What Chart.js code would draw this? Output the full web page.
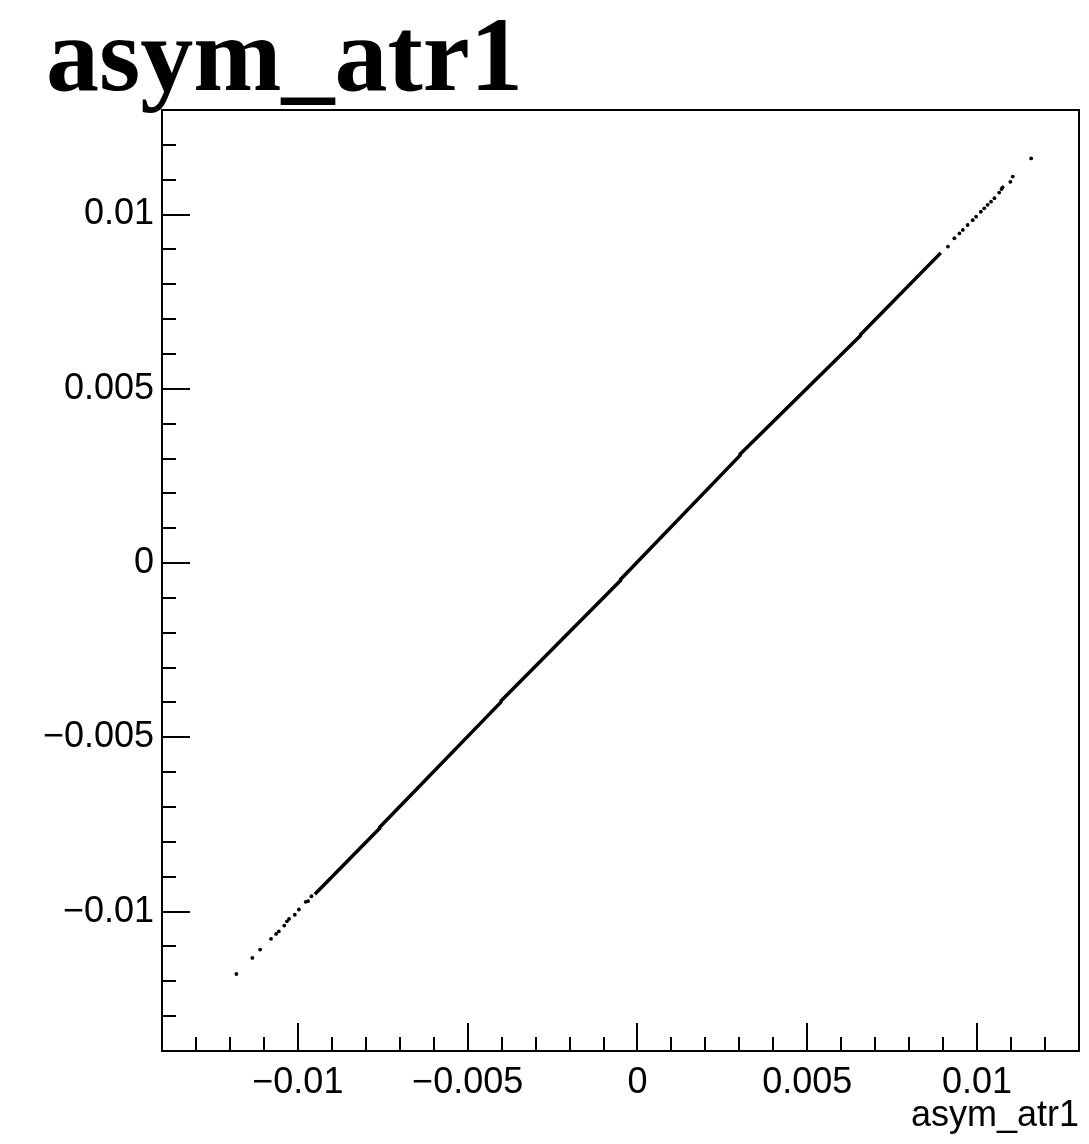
<!DOCTYPE html>
<html>
<head>
<meta charset="utf-8">
<script src="https://cdn.jsdelivr.net/npm/chart.js@4"></script>
<style>
html,body{margin:0;padding:0;background:#fff;}
#wrap{position:relative;width:1089px;height:1144px;}
</style>
</head>
<body>
<div id="wrap"><canvas id="c" width="1089" height="1144"></canvas></div>
<script>
// ---- data ----
const chartTitle = "asym_atr1";
const xAxisTitle = "asym_atr1";
const axisMin = -0.014;
const axisMax = 0.013;
const minorStep = 0.001;
const majorTickValues = [-0.01, -0.005, 0, 0.005, 0.01];
const majorTickLabels = ["\u22120.01", "\u22120.005", "0", "0.005", "0.01"];

// dense band (continuous trace, with small kinks)
const denseX = [-0.00950, -0.00759, -0.00759, -0.00402, -0.00402, -0.00050, -0.00050, 0.00302, 0.00302, 0.00657, 0.00657, 0.00893];
const denseY = [-0.00950, -0.00761, -0.00758, -0.00399, -0.00396, -0.00050, -0.00047, 0.00309, 0.00312, 0.00653, 0.00656, 0.00890];

// isolated points in the tails
const tailX = [-0.01181, -0.01134, -0.01111, -0.01079, -0.01064, -0.01056, -0.01040, -0.01032, -0.01026, -0.01009, -0.00997, -0.00977, -0.00970, -0.00960,
               0.00914, 0.00933, 0.00948, 0.00958, 0.00972, 0.00987, 0.00997, 0.01011, 0.01021, 0.01031, 0.01041, 0.01051, 0.01065, 0.01072, 0.01075, 0.01098, 0.01105, 0.01159];
const tailY = [-0.01179, -0.01133, -0.01109, -0.01078, -0.01064, -0.01057, -0.01040, -0.01028, -0.01021, -0.01009, -0.00994, -0.00972, -0.00970, -0.00956,
               0.00908, 0.00932, 0.00946, 0.00956, 0.00970, 0.00984, 0.00994, 0.01008, 0.01018, 0.01028, 0.01037, 0.01047, 0.01063, 0.01073, 0.01078, 0.01094, 0.01109, 0.01161];

// ---- build ----
const minorTickValues = [];
for (let i = Math.round(axisMin / minorStep); i <= Math.round(axisMax / minorStep); i++) minorTickValues.push(i * minorStep);

function labelFor(v) {
  for (let i = 0; i < majorTickValues.length; i++) {
    if (Math.abs(v - majorTickValues[i]) < 1e-9) return majorTickLabels[i];
  }
  return "";
}
function isMajor(v) { return labelFor(v) !== "" ; }

const densePts = denseX.map((x, i) => ({x: x, y: denseY[i]}));
const tailPts = tailX.map((x, i) => ({x: x, y: tailY[i]}));

const FONT = "'Liberation Sans', Arial, Helvetica, sans-serif";

const framePlugin = {
  id: 'rootFrame',
  afterDraw(chart) {
    const ctx = chart.ctx;
    const a = chart.chartArea;
    const xs = chart.scales.x, ys = chart.scales.y;
    ctx.save();
    ctx.strokeStyle = '#000';
    ctx.lineWidth = 2;
    ctx.strokeRect(a.left, a.top, a.right - a.left, a.bottom - a.top);
    ctx.lineWidth = 2;
    ctx.beginPath();
    xs.ticks.forEach(t => {
      const px = Math.round(xs.getPixelForValue(t.value));
      const len = isMajor(t.value) ? 28 : 14;
      ctx.moveTo(px, a.bottom);
      ctx.lineTo(px, a.bottom - len);
    });
    ys.ticks.forEach(t => {
      const py = Math.round(ys.getPixelForValue(t.value));
      const len = isMajor(t.value) ? 28 : 14;
      ctx.moveTo(a.left, py);
      ctx.lineTo(a.left + len, py);
    });
    ctx.stroke();
    // title
    ctx.fillStyle = '#000';
    ctx.font = "bold 106px 'Liberation Serif', 'Times New Roman', serif";
    ctx.textBaseline = 'alphabetic';
    ctx.textAlign = 'left';
    ctx.fillText(chartTitle, 46, 90);
    ctx.restore();
  }
};

const setTicks = (scale) => { scale.ticks = minorTickValues.map(v => ({value: v})); };

new Chart(document.getElementById('c'), {
  type: 'scatter',
  data: {
    datasets: [
      {data: densePts, showLine: true, borderColor: '#000', borderWidth: 3.5, pointRadius: 0, backgroundColor: '#000', tension: 0},
      {data: tailPts, showLine: false, pointRadius: 1.9, pointBorderWidth: 0, backgroundColor: '#000', borderColor: '#000'}
    ]
  },
  options: {
    responsive: false,
    animation: false,
    devicePixelRatio: 1,
    layout: {padding: {top: 110, right: 2, left: 0, bottom: 0}},
    plugins: {legend: {display: false}, tooltip: {enabled: false}, title: {display: false}},
    scales: {
      x: {
        type: 'linear', min: axisMin, max: axisMax,
        afterBuildTicks: setTicks,
        afterFit: (s) => { s.height = 93; },
        grid: {display: false, drawTicks: false},
        border: {display: false},
        ticks: {autoSkip: false, maxRotation: 0, padding: 10, color: '#000',
                font: {family: FONT, size: 36}, callback: (v) => labelFor(v)},
        title: {display: true, text: xAxisTitle, align: 'end', color: '#000',
                font: {family: FONT, size: 36}, padding: {top: 0, bottom: 6}}
      },
      y: {
        type: 'linear', min: axisMin, max: axisMax,
        afterBuildTicks: setTicks,
        afterFit: (s) => { s.width = 162; },
        grid: {display: false, drawTicks: false},
        border: {display: false},
        ticks: {autoSkip: false, padding: 8, color: '#000',
                font: {family: FONT, size: 36}, callback: (v) => labelFor(v)}
      }
    }
  },
  plugins: [framePlugin]
});
</script>
</body>
</html>
